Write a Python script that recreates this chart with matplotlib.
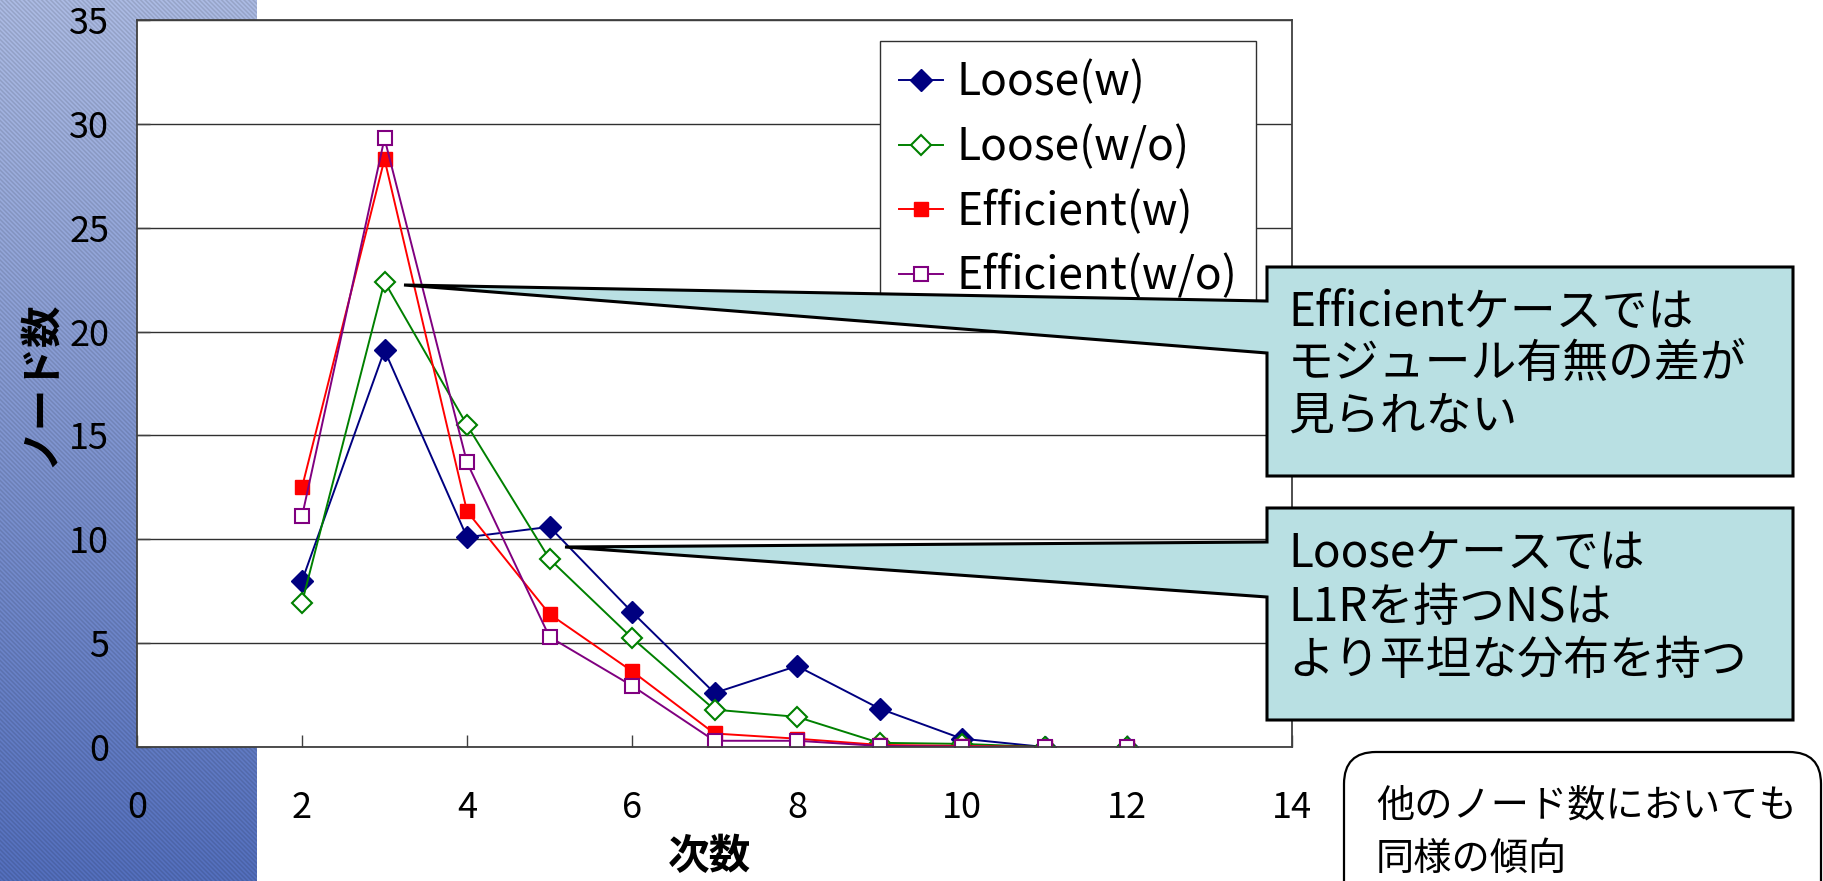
import numpy as np
import matplotlib
matplotlib.use("Agg")
import matplotlib.pyplot as plt
from matplotlib.patches import Polygon, FancyBboxPatch

plt.rcParams["font.family"] = ["Noto Sans CJK JP", "DejaVu Sans"]

# data
degree = [2, 3, 4, 5, 6, 7, 8, 9, 10, 11, 12]
loose_w = [8.0, 19.1, 10.1, 10.6, 6.5, 2.6, 3.9, 1.85, 0.4, 0.0, 0.0]
loose_wo = [6.95, 22.4, 15.5, 9.05, 5.25, 1.8, 1.45, 0.2, 0.15, 0.0, 0.0]
eff_w = [12.5, 28.3, 11.35, 6.4, 3.65, 0.65, 0.4, 0.1, 0.05, 0.0, 0.0]
eff_wo = [11.1, 29.3, 13.7, 5.3, 2.95, 0.3, 0.3, 0.05, 0.02, 0.0, 0.0]

series_names = ["Loose(w)", "Loose(w/o)", "Efficient(w)", "Efficient(w/o)"]
xticks = [0, 2, 4, 6, 8, 10, 12, 14]
yticks = [0, 5, 10, 15, 20, 25, 30, 35]

note1 = ["Efficientケースでは", "モジュール有無の差が", "見られない"]
note2 = ["Looseケースでは", "L1Rを持つNSは", "より平坦な分布を持つ"]
note3 = ["他のノード数においても", "同様の傾向"]

W, H = 1824, 881
fig = plt.figure(figsize=(W / 100, H / 100), dpi=100)
fig.patch.set_facecolor("white")

# slide background strip on the left (gradient with fine diagonal stripes)
bg = fig.add_axes([0, 0, 257 / W, 1], zorder=-5)
yy, xx = np.mgrid[0:H, 0:257]
t = (yy / (H - 1))[..., None]
top = np.array([0.68, 0.74, 0.90])
bot = np.array([0.33, 0.44, 0.75])
img = top * (1 - t) + bot * t
stripe = 0.5 + 0.5 * np.sin(2 * np.pi * (xx - yy) / 4.5)
img = img * (1 - 0.13 * stripe[..., None])
bg.imshow(np.clip(img, 0, 1), aspect="auto", interpolation="bilinear")
bg.axis("off")

# main chart
ax = fig.add_axes([137 / W, 1 - 747 / H, (1292 - 137) / W, (747 - 20) / H])
ax.set_facecolor("white")

ax.plot(degree, loose_w, color="#000080", lw=1.4, marker="D", ms=11,
        mfc="#000080", mec="#000080", label=series_names[0])
ax.plot(degree, loose_wo, color="#008000", lw=1.4, marker="D", ms=10,
        mfc="white", mec="#008000", mew=1.5, label=series_names[1])
ax.plot(degree, eff_w, color="#ff0000", lw=1.4, marker="s", ms=10,
        mfc="#ff0000", mec="#ff0000", label=series_names[2])
ax.plot(degree, eff_wo, color="#800080", lw=1.4, marker="s", ms=10,
        mfc="white", mec="#800080", mew=1.5, label=series_names[3])

ax.set_xlim(0, 14)
ax.set_ylim(0, 35)
ax.set_xticks(xticks)
ax.set_yticks(yticks)
ax.yaxis.grid(True, color="#303030", lw=1.0)
ax.set_axisbelow(True)
for sp in ax.spines.values():
    sp.set_color("#404040")
    sp.set_linewidth(1.3)
ax.tick_params(axis="x", direction="in", length=9, width=1, color="#404040",
               pad=31, labelsize=26)
ax.tick_params(axis="y", direction="in", length=9, width=1, color="#404040",
               pad=20, labelsize=26)

ax.set_xlabel("次数", fontsize=30, fontweight="bold")
ax.xaxis.set_label_coords(0.496, -0.152)
ax.xaxis.label.set_va("center")
ax.set_ylabel("ノード数", fontsize=30, fontweight="bold")
ax.yaxis.set_label_coords(-0.084, 0.5)
ax.yaxis.label.set_va("center")

leg = ax.legend(loc="upper left", bbox_to_anchor=(880 / W, 1 - 41 / H),
                bbox_transform=fig.transFigure, fontsize=32, frameon=True,
                fancybox=False, edgecolor="#303030", framealpha=1,
                handlelength=1.0, handletextpad=0.3, labelspacing=0.42,
                borderpad=0.42, borderaxespad=0)
leg.get_frame().set_linewidth(1.0)

# overlay in pixel coordinates for the callouts
ov = fig.add_axes([0, 0, 1, 1], zorder=10)
ov.set_xlim(0, W)
ov.set_ylim(H, 0)
ov.axis("off")
ov.patch.set_alpha(0)

fill = "#b9e0e3"
c1 = [(404, 285), (1267, 301), (1267, 267), (1793, 267), (1793, 476),
      (1267, 476), (1267, 353)]
c2 = [(565, 547), (1267, 542), (1267, 508), (1793, 508), (1793, 720),
      (1267, 720), (1267, 597)]
for pts in (c1, c2):
    ov.add_patch(Polygon(pts, closed=True, facecolor=fill, edgecolor="black",
                         lw=2.2, joinstyle="miter"))

for i, line in enumerate(note1):
    ov.text(1288, 312 + i * 52, line, fontsize=33, va="center", ha="left")
for i, line in enumerate(note2):
    ov.text(1288, 554 + i * 53.5, line, fontsize=33, va="center", ha="left")

ov.add_patch(FancyBboxPatch((1344, 752), 1821 - 1344, 200,
                            boxstyle="round,pad=0,rounding_size=32",
                            facecolor="white", edgecolor="black", lw=1.6))
for i, line in enumerate(note3):
    ov.text(1376, 806 + i * 53, line, fontsize=27.5, va="center", ha="left")

fig.savefig("out.png", dpi=100)
